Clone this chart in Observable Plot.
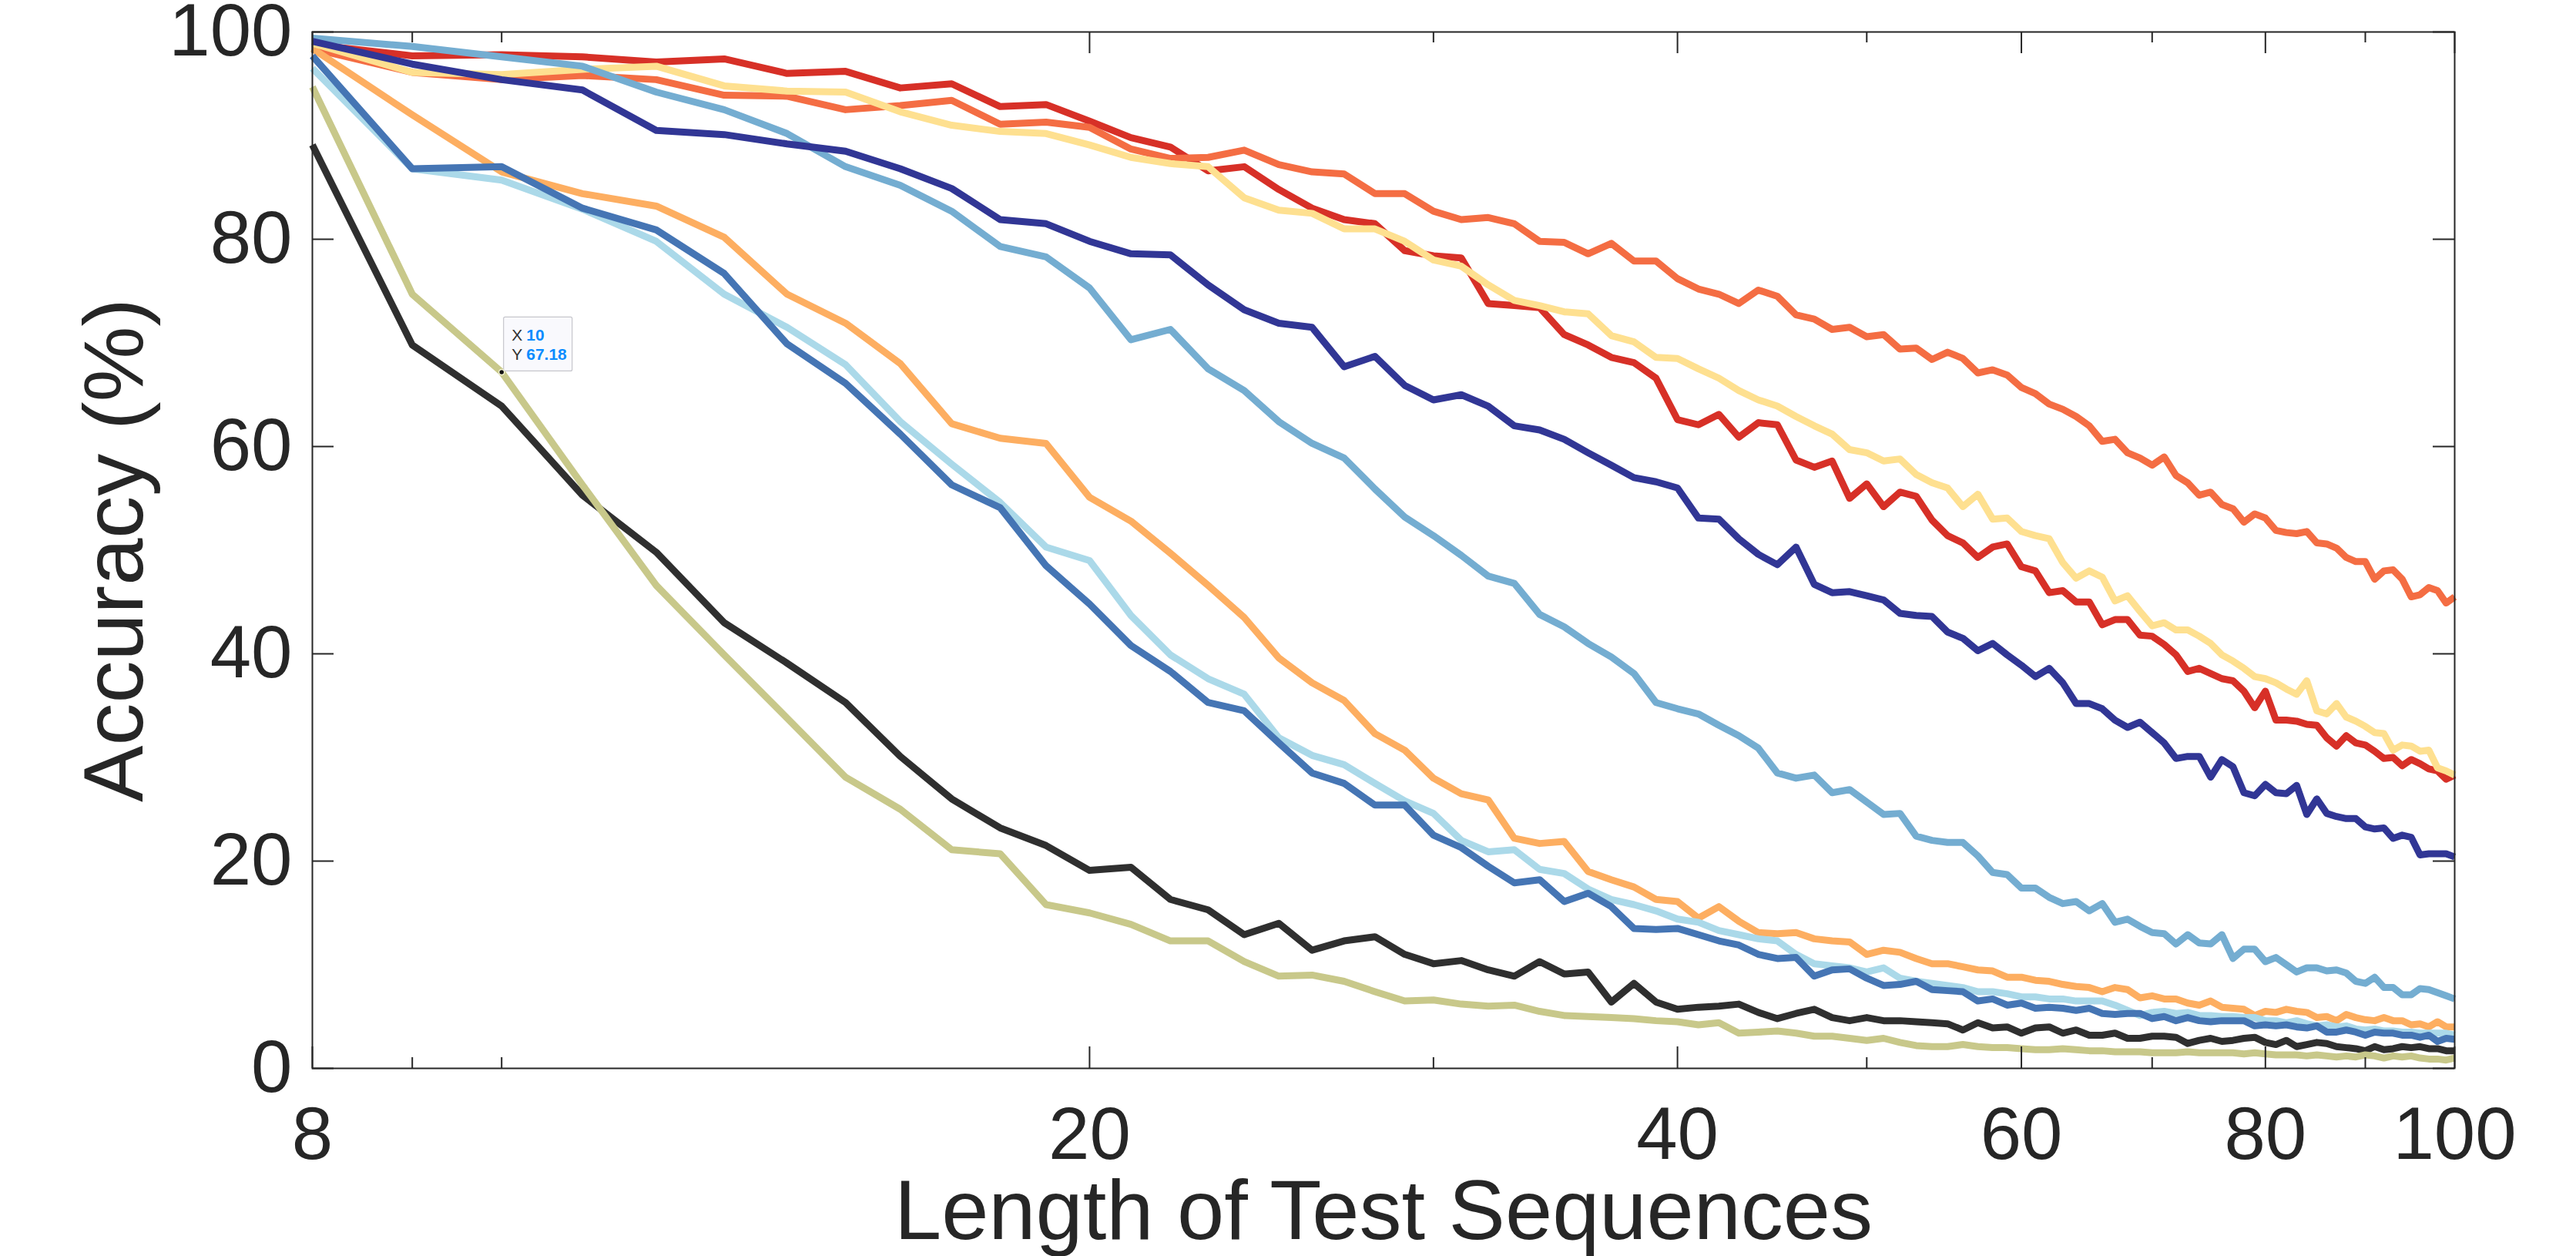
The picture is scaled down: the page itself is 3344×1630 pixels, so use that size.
<!DOCTYPE html>
<html>
<head>
<meta charset="utf-8">
<script src="https://cdn.jsdelivr.net/npm/d3@7"></script>
<script src="https://cdn.jsdelivr.net/npm/@observablehq/plot@0.6"></script>
<style>
  html, body { margin: 0; padding: 0; background: #ffffff; }
  #chart svg { display: block; }
</style>
</head>
<body>
<div id="chart"></div>
<script>
// ---------- data ----------
const lengths = d3.range(8, 101); // test sequence lengths 8..100
const xTickLabels = [8, 20, 40, 60, 80, 100];
const xMinorTicks = [9, 10, 30, 50, 70, 90];
const yTicks = [0, 20, 40, 60, 80, 100];

const seriesNames  = ["red", "orangeRed", "lightOrange", "yellow", "lightBlue", "mediumBlue", "blue", "darkBlue", "black", "khaki"];
const seriesColors = ["#d73027", "#f46d43", "#fdae61", "#fee090", "#abd9e9", "#74add1", "#4575b4", "#313695", "#2f2f2f", "#c8c88a"];

const red = [
  98.8, 97.7, 97.8, 97.6, 97.1, 97.4, 96.0, 96.2, 94.6, 95.0,
  92.8, 93.0, 91.4, 89.8, 88.9, 86.6, 87.0, 84.8, 83.0, 81.9,
  81.5, 78.9, 78.4, 78.2, 73.8, 73.6, 73.4, 70.8, 69.8, 68.6,
  68.1, 66.6, 62.6, 62.1, 63.1, 60.9, 62.3, 62.1, 58.7, 58.0,
  58.6, 55.0, 56.4, 54.2, 55.6, 55.2, 52.9, 51.4, 50.7, 49.3,
  50.3, 50.6, 48.4, 48.0, 45.9, 46.1, 45.0, 45.0, 42.8, 43.3,
  43.3, 41.8, 41.7, 40.9, 39.9, 38.3, 38.6, 38.1, 37.6, 37.4,
  36.4, 34.8, 36.4, 33.6, 33.6, 33.5, 33.2, 33.1, 31.9, 31.1,
  32.1, 31.4, 31.2, 30.6, 29.9, 30.0, 29.2, 29.8, 29.4, 28.9,
  28.7, 27.9, 28.3
];
const orangeRed = [
  98.4, 96.1, 95.4, 95.8, 95.4, 93.9, 93.8, 92.5, 92.9, 93.4,
  91.1, 91.3, 90.8, 88.7, 87.8, 87.9, 88.6, 87.2, 86.5, 86.3,
  84.4, 84.4, 82.7, 81.9, 82.1, 81.5, 79.8, 79.7, 78.6, 79.6,
  77.9, 77.9, 76.2, 75.2, 74.7, 73.8, 75.1, 74.5, 72.7, 72.3,
  71.3, 71.5, 70.6, 70.8, 69.4, 69.5, 68.4, 69.1, 68.5, 67.1,
  67.4, 66.9, 65.7, 65.1, 64.1, 63.6, 62.9, 62.0, 60.5, 60.7,
  59.4, 58.9, 58.2, 59.0, 57.2, 56.5, 55.3, 55.6, 54.4, 54.0,
  52.7, 53.5, 53.1, 51.9, 51.7, 51.6, 51.8, 50.7, 50.6, 50.2,
  49.3, 48.9, 48.9, 47.2, 48.0, 48.1, 47.2, 45.5, 45.7, 46.4,
  46.1, 44.9, 45.5
];
const lightOrange = [
  98.4, 92.0, 86.5, 84.4, 83.2, 80.2, 74.7, 71.9, 68.0, 62.2,
  60.8, 60.3, 55.1, 52.8, 49.7, 46.6, 43.5, 39.6, 37.2, 35.5,
  32.3, 30.7, 28.0, 26.5, 25.9, 22.2, 21.7, 21.9, 19.0, 18.2,
  17.5, 16.3, 16.1, 14.5, 15.6, 14.2, 13.1, 13.0, 13.1, 12.5,
  12.3, 12.2, 11.0, 11.4, 11.2, 10.6, 10.1, 10.1, 9.8, 9.5,
  9.4, 8.8, 8.8, 8.5, 8.4, 8.1, 7.9, 7.8, 7.4, 7.8,
  7.6, 6.8, 7.0, 6.7, 6.7, 6.3, 6.1, 6.5, 5.9, 5.8,
  5.7, 5.1, 5.5, 5.4, 5.7, 5.5, 5.4, 4.9, 5.0, 4.6,
  5.2, 4.9, 4.7, 4.6, 4.9, 4.6, 4.6, 4.2, 4.3, 4.0,
  4.5, 4.0, 4.0
];
const yellow = [
  98.9, 96.1, 95.9, 96.4, 96.7, 94.8, 94.3, 94.2, 92.3, 91.0,
  90.4, 90.2, 89.1, 87.9, 87.3, 87.0, 84.0, 82.8, 82.5, 81.0,
  81.0, 79.8, 78.0, 77.4, 75.6, 74.1, 73.6, 73.0, 72.8, 70.7,
  70.1, 68.6, 68.5, 67.5, 66.6, 65.4, 64.5, 63.9, 62.9, 62.0,
  61.2, 59.7, 59.4, 58.6, 58.8, 57.3, 56.5, 56.0, 54.2, 55.4,
  53.0, 53.1, 51.8, 51.4, 51.1, 48.8, 47.3, 48.0, 47.4, 45.1,
  45.6, 44.1, 42.7, 43.0, 42.3, 42.3, 41.7, 41.0, 39.9, 39.3,
  38.6, 37.8, 37.6, 37.2, 36.6, 36.1, 37.4, 34.5, 34.2, 35.2,
  33.9, 33.5, 33.0, 32.4, 32.3, 30.7, 31.2, 31.1, 30.6, 30.7,
  29.0, 28.7, 28.3
];
const lightBlue = [
  96.5, 86.8, 85.7, 82.9, 79.8, 74.7, 71.5, 67.9, 62.4, 58.3,
  54.6, 50.3, 49.0, 43.7, 39.9, 37.6, 36.1, 31.9, 30.2, 29.3,
  27.5, 25.8, 24.6, 22.0, 20.9, 21.1, 19.2, 18.8, 17.3, 16.3,
  15.8, 15.2, 14.4, 14.1, 13.3, 12.9, 12.5, 12.3, 11.0, 10.1,
  9.9, 9.7, 9.3, 9.7, 8.7, 8.4, 8.2, 8.0, 7.8, 7.4,
  7.4, 7.2, 6.9, 6.9, 6.7, 6.7, 6.5, 6.5, 6.5, 6.1,
  5.6, 5.1, 5.4, 5.5, 5.3, 5.4, 5.1, 5.1, 5.0, 5.0,
  4.9, 4.9, 4.6, 4.6, 4.4, 4.6, 4.3, 4.1, 4.2, 4.0,
  4.1, 3.8, 3.7, 3.8, 3.6, 3.6, 3.5, 3.5, 3.4, 3.4,
  3.4, 3.4, 3.2
];
const mediumBlue = [
  99.4, 98.6, 97.6, 96.7, 94.2, 92.5, 90.2, 87.0, 85.2, 82.7,
  79.3, 78.3, 75.3, 70.3, 71.3, 67.5, 65.4, 62.4, 60.3, 58.9,
  55.9, 53.2, 51.4, 49.5, 47.5, 46.8, 43.8, 42.6, 41.0, 39.7,
  38.1, 35.3, 34.7, 34.2, 33.1, 32.1, 30.9, 28.5, 28.0, 28.3,
  26.6, 26.9, 25.7, 24.5, 24.6, 22.4, 22.0, 21.8, 21.8, 20.5,
  18.9, 18.7, 17.4, 17.4, 16.5, 15.9, 16.1, 15.2, 15.9, 14.1,
  14.4, 13.7, 13.1, 13.0, 12.0, 12.9, 12.1, 12.0, 12.9, 10.6,
  11.5, 11.5, 10.3, 10.7, 10.0, 9.3, 9.7, 9.7, 9.4, 9.5,
  9.2, 8.4, 8.2, 8.8, 7.8, 7.8, 7.1, 7.1, 7.7, 7.6,
  7.3, 7.0, 6.7
];
const blue = [
  97.7, 86.8, 87.0, 83.0, 80.9, 76.7, 69.9, 66.1, 61.2, 56.3,
  54.1, 48.5, 44.8, 40.8, 38.3, 35.3, 34.5, 31.4, 28.5, 27.5,
  25.4, 25.4, 22.5, 21.3, 19.5, 17.9, 18.2, 16.1, 16.9, 15.6,
  13.5, 13.4, 13.5, 12.9, 12.3, 11.9, 11.0, 10.6, 10.7, 8.9,
  9.5, 9.6, 8.7, 8.0, 8.1, 8.4, 7.6, 7.5, 7.4, 6.5,
  6.7, 6.1, 6.3, 5.8, 5.9, 5.8, 5.6, 5.8, 5.3, 5.2,
  5.3, 5.3, 4.8, 5.0, 4.6, 4.9, 4.6, 4.5, 4.6, 4.6,
  4.6, 4.1, 4.2, 4.1, 4.2, 4.0, 3.9, 4.1, 3.5, 3.5,
  3.7, 3.5, 3.2, 3.5, 3.4, 3.4, 3.2, 3.2, 3.0, 3.2,
  2.6, 2.9, 2.8
];
const darkBlue = [
  99.1, 96.9, 95.4, 94.4, 90.5, 90.1, 89.2, 88.5, 86.8, 84.9,
  81.9, 81.5, 79.8, 78.6, 78.5, 75.6, 73.2, 71.9, 71.5, 67.7,
  68.7, 65.9, 64.5, 65.0, 63.9, 62.0, 61.6, 60.7, 59.4, 58.2,
  57.0, 56.6, 56.0, 53.1, 53.0, 51.1, 49.6, 48.6, 50.3, 46.7,
  45.9, 46.0, 45.6, 45.2, 43.9, 43.7, 43.6, 42.1, 41.5, 40.3,
  41.0, 39.9, 38.9, 37.8, 38.6, 37.2, 35.2, 35.2, 34.7, 33.6,
  32.9, 33.4, 32.4, 31.4, 29.9, 30.1, 30.1, 28.1, 29.8, 29.1,
  26.6, 26.3, 27.4, 26.6, 26.5, 27.3, 24.5, 26.0, 24.6, 24.3,
  24.1, 24.1, 23.3, 23.1, 23.2, 22.2, 22.5, 22.3, 20.6, 20.7,
  20.7, 20.7, 20.4
];
const black = [
  89.1, 69.8, 63.9, 55.3, 49.8, 43.0, 39.1, 35.3, 30.1, 26.0,
  23.2, 21.5, 19.1, 19.4, 16.3, 15.3, 12.9, 14.0, 11.4, 12.3,
  12.7, 11.0, 10.1, 10.4, 9.5, 8.9, 10.3, 9.1, 9.3, 6.4,
  8.2, 6.4, 5.7, 5.9, 6.0, 6.2, 5.4, 4.8, 5.3, 5.7,
  4.9, 4.6, 4.9, 4.6, 4.6, 4.5, 4.4, 4.3, 3.7, 4.4,
  3.9, 4.0, 3.4, 3.9, 4.0, 3.4, 3.7, 3.2, 3.2, 3.4,
  2.9, 2.9, 3.1, 3.1, 3.0, 2.4, 2.7, 2.9, 2.6, 2.7,
  2.9, 3.0, 2.5, 2.3, 2.7, 2.1, 2.3, 2.5, 2.4, 2.1,
  2.0, 1.9, 1.7, 2.1, 1.8, 1.9, 2.1, 2.0, 2.1, 1.9,
  1.9, 1.7, 1.7
];
const khaki = [
  94.7, 74.7, 67.18, 56.3, 46.6, 39.9, 33.8, 28.1, 25.0, 21.1,
  20.7, 15.8, 15.0, 13.9, 12.3, 12.3, 10.3, 8.9, 9.0, 8.4,
  7.4, 6.5, 6.6, 6.2, 6.0, 6.1, 5.5, 5.1, 5.0, 4.9,
  4.8, 4.6, 4.5, 4.2, 4.4, 3.4, 3.5, 3.6, 3.4, 3.1,
  3.1, 2.9, 2.7, 2.9, 2.5, 2.2, 2.1, 2.1, 2.3, 2.1,
  2.0, 2.0, 1.9, 1.8, 1.8, 1.9, 1.8, 1.7, 1.7, 1.6,
  1.6, 1.6, 1.5, 1.5, 1.5, 1.6, 1.5, 1.5, 1.5, 1.5,
  1.4, 1.5, 1.4, 1.3, 1.3, 1.3, 1.2, 1.3, 1.2, 1.1,
  1.2, 1.1, 1.3, 1.2, 1.0, 1.2, 1.1, 1.2, 1.0, 0.9,
  0.9, 0.8, 1.0
];

// datatip shown on the khaki series
const datatipX = 10;
const datatipY = 67.18;

// ---------- build ----------
const seriesValues = [red, orangeRed, lightOrange, yellow, lightBlue, mediumBlue, blue, darkBlue, black, khaki];
const rows = [];
seriesValues.forEach((vals, i) => {
  if (vals.length !== lengths.length) console.error(seriesNames[i], vals.length);
  vals.forEach((v, j) => rows.push({name: seriesNames[i], color: seriesColors[i], len: lengths[j], acc: v}));
});
const tip = [{x: datatipX, y: datatipY}];

const W = 3344, H = 1630;
const mL = 405, mR = 158, mT = 41, mB = 244;
const plotW = W - mL - mR, plotH = H - mT - mB;
const ink = "#262626";
const majorLen = 28, minorLen = 14;

const chart = Plot.plot({
  width: W,
  height: H,
  marginLeft: mL,
  marginRight: mR,
  marginTop: mT,
  marginBottom: mB,
  style: {fontFamily: "'Liberation Sans', Arial, Helvetica, sans-serif", background: "#ffffff", color: ink, overflow: "visible"},
  x: {type: "log", domain: [8, 100], axis: null},
  y: {domain: [0, 100], axis: null},
  color: {type: "identity"},
  marks: [
    // data lines
    Plot.line(rows, {x: "len", y: "acc", z: "name", stroke: "color", strokeWidth: 9, strokeLinejoin: "round", strokeLinecap: "butt"}),
    // frame
    Plot.frame({stroke: ink, strokeWidth: 2}),
    // inward ticks: bottom & top, major and minor
    Plot.ruleX(xTickLabels, {x: d => d, stroke: ink, strokeWidth: 2, insetTop: plotH - majorLen}),
    Plot.ruleX(xTickLabels, {x: d => d, stroke: ink, strokeWidth: 2, insetBottom: plotH - majorLen}),
    Plot.ruleX(xMinorTicks, {x: d => d, stroke: ink, strokeWidth: 2, insetTop: plotH - minorLen}),
    Plot.ruleX(xMinorTicks, {x: d => d, stroke: ink, strokeWidth: 2, insetBottom: plotH - minorLen}),
    // inward ticks: left & right
    Plot.ruleY(yTicks, {y: d => d, stroke: ink, strokeWidth: 2, insetRight: plotW - majorLen}),
    Plot.ruleY(yTicks, {y: d => d, stroke: ink, strokeWidth: 2, insetLeft: plotW - majorLen}),
    // tick labels
    Plot.text(xTickLabels, {x: d => d, frameAnchor: "bottom", text: d => String(d), lineAnchor: "top", dy: 49, fontSize: 96, fill: ink}),
    Plot.text(yTicks, {y: d => d, frameAnchor: "left", text: d => String(d), textAnchor: "end", lineAnchor: "middle", dx: -26, fontSize: 96, fill: ink}),
    // axis titles
    Plot.text(["Length of Test Sequences"], {frameAnchor: "bottom", text: d => d, lineAnchor: "bottom", dy: 221, fontSize: 110, fill: ink}),
    Plot.text(["Accuracy (%)"], {frameAnchor: "left", text: d => d, rotate: -90, lineAnchor: "bottom", textAnchor: "middle", dx: -221, fontSize: 110, fill: ink}),
    // datatip
    Plot.rect(tip, {x1: "x", x2: "x", y1: "y", y2: "y", insetLeft: 3, insetRight: -92, insetTop: -71, insetBottom: 1, fill: "#f9f9fd", stroke: "#c6c6cc", strokeWidth: 1.2, rx: 2}),
    Plot.dot(tip, {x: "x", y: "y", r: 3.5, fill: "#111111", stroke: "#f3f3d0", strokeWidth: 1.5}),
    Plot.text(tip, {x: "x", y: "y", text: () => "X", textAnchor: "start", lineAnchor: "bottom", dx: 13, dy: -41, fontSize: 21, fill: "#333333"}),
    Plot.text(tip, {x: "x", y: "y", text: () => "Y", textAnchor: "start", lineAnchor: "bottom", dx: 13, dy: -16, fontSize: 21, fill: "#333333"}),
    Plot.text(tip, {x: "x", y: "y", text: d => String(d.x), textAnchor: "start", lineAnchor: "bottom", dx: 32, dy: -41, fontSize: 21, fontWeight: "bold", fill: "#0a8cff"}),
    Plot.text(tip, {x: "x", y: "y", text: d => d.y.toFixed(2), textAnchor: "start", lineAnchor: "bottom", dx: 32, dy: -16, fontSize: 21, fontWeight: "bold", fill: "#0a8cff"})
  ]
});
document.getElementById("chart").appendChild(chart);
</script>
</body>
</html>
